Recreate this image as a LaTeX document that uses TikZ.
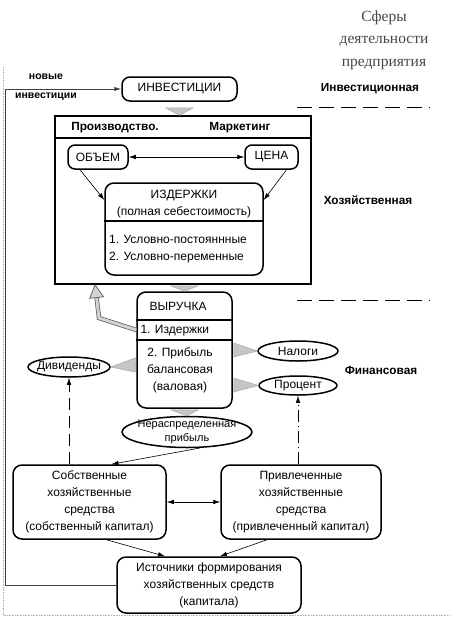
\documentclass[tikz,border=0pt]{standalone}
\usepackage{fontspec}
\setmainfont{Liberation Sans}
\newfontfamily\titlefont{Liberation Serif}
\usetikzlibrary{arrows.meta,calc,shapes.geometric,positioning}

\begin{document}
\begin{tikzpicture}[
        x=1pt, y=-1pt,
        font=\fontsize{12}{17}\selectfont,
        box/.style={draw, line width=1.5pt, rounded corners=9pt, align=center},
        frame/.style={draw, line width=1.5pt},
        oval/.style={ellipse, draw, line width=1.5pt, inner xsep=-10pt, inner ysep=-2pt, align=center},
        sphere/.style={font=\fontsize{11.8}{14}\selectfont\bfseries},
        arrow/.style={line width=0.6pt, -{Latex[length=7pt,width=4.5pt]}},
        biarrow/.style={line width=0.6pt, {Latex[length=7pt,width=4.5pt]}-{Latex[length=7pt,width=4.5pt]}},
        wedge/.style={fill=gray!45, draw=gray!70, line width=0.5pt},
        feedback/.style={draw=gray!70!black, double=gray!35, double distance=3pt, line width=0.7pt, -{Triangle[length=14pt,width=15pt,fill=gray!35]}},
        looparrow/.style={draw=black!75, line width=1pt, -{Latex[length=7pt,width=4.5pt]}},
        bound/.style={dash pattern=on 15pt off 7pt, line width=0.8pt},
        border/.style={gray!60, densely dotted, line width=0.6pt}
    ]
        \useasboundingbox (0,0) rectangle (451,622);

        % sheet edges
        \draw[border] (3,67) -- (3,615) -- (450,615);

        % spheres of activity
        \node[font=\titlefont\fontsize{15.5}{22.5}\selectfont, text=gray!55!black, align=center] (title) at (384,40) {Сферы\\деятельности\\предприятия};
        \node[sphere] (invsphere) at (370,89) {Инвестиционная};
        \node[sphere] (ecosphere) at (368,200) {Хозяйственная};
        \node[sphere] (finsphere) at (381,370) {Финансовая};
        \draw[bound] (297,107) -- (430,107);
        \draw[bound] (297,300) -- (430,300);

        % investment
        \node[box, rounded corners=8pt, minimum width=115pt, minimum height=24pt] (invest) at (179.5,89) {ИНВЕСТИЦИИ};

        % production and marketing
        \node[frame, minimum width=256pt, minimum height=168pt] (prod) at (183,200) {};
        \node[sphere] (prodlbl) at (115,128) {Производство.};
        \node[sphere] (mktlbl) at (240,128) {Маркетинг};
        \draw[line width=1.5pt] (prod.west |- 0,138) -- (prod.east |- 0,138);
        \node[box, rounded corners=7pt, minimum width=60pt, minimum height=24pt] (volume) at (98,157) {ОБЪЕМ};
        \node[box, rounded corners=7pt, minimum width=53pt, minimum height=24pt] (price) at (271.5,157) {ЦЕНА};
        \node[box, minimum width=158pt, minimum height=92pt] (costs) at (184,229) {};
        \node[align=center] (coststtl) at (184,204) {ИЗДЕРЖКИ\\(полная себестоимость)};
        \draw[line width=1.5pt] (costs.west |- 0,221) -- (costs.east |- 0,221);
        \node[align=left] (costslist) at (178,249) {1. Условно-постояннные\\2. Условно-переменные};

        \draw[biarrow] (volume) -- (price);
        \draw[arrow] ($(volume.south)+(-18,0)$) -- ($(costs.west)+(0,-29)$);
        \draw[arrow] ($(price.south)+(15,0)$) -- ($(costs.east)+(0,-29)$);

        % revenue
        \node[box, minimum width=95pt, minimum height=116pt] (revenue) at (184.5,350) {};
        \node (revttl) at (178,306) {ВЫРУЧКА};
        \draw[line width=1.5pt] (revenue.west |- 0,320) -- (revenue.east |- 0,320);
        \draw[line width=1.5pt] (revenue.west |- 0,340) -- (revenue.east |- 0,340);
        \node[anchor=west] (revcosts) at (137,331) {1. Издержки};
        \node[align=center] (revprofit) at (180,370) {2. Прибыль\\балансовая\\(валовая)};

        % distribution of profit
        \node[oval, minimum width=80pt, minimum height=20pt] (taxes) at (298,351) {Налоги};
        \node[oval, minimum width=78pt, minimum height=19pt] (interest) at (298,385.5) {Процент};
        \node[oval, minimum width=82pt, minimum height=20pt] (dividends) at (69,367) {Дивиденды};
        \node[oval, font=\fontsize{11}{14}\selectfont, inner xsep=-13pt, inner ysep=-4pt, minimum width=130pt, minimum height=31pt] (retained) at (187,432) {Нераспределенная\\прибыль};

        % capital
        \node[box, minimum width=153pt, minimum height=74pt] (own) at (89.5,502) {Собственные\\хозяйственные\\средства\\(собственный капитал)};
        \node[box, minimum width=160pt, minimum height=74pt] (borrowed) at (301,502) {Привлеченные\\хозяйственные\\средства\\(привлеченный капитал)};
        \node[box, minimum width=184pt, minimum height=56pt] (sources) at (209,585) {Источники формирования\\хозяйственных средств\\(капитала)};

        % grey wedges
        \filldraw[wedge] ($(invest.south)+(-14,6)$) -- ($(invest.south)+(14,6)$) -- (invest.south |- prod.north) -- cycle;
        \filldraw[wedge] ($(revenue.north |- prod.south)+(-14,1)$) -- ($(revenue.north |- prod.south)+(14,1)$) -- (revenue.north) -- cycle;
        \filldraw[wedge] ($(revenue.east)+(1,-7)$) -- ($(revenue.east)+(1,7)$) -- (taxes.west) -- cycle;
        \filldraw[wedge] ($(revenue.east)+(1,28)$) -- ($(revenue.east)+(1,42)$) -- (interest.west) -- cycle;
        \filldraw[wedge] ($(revenue.west)+(-1,8)$) -- ($(revenue.west)+(-1,22)$) -- (dividends.east) -- cycle;
        \filldraw[wedge] ($(revenue.south)+(-14,1)$) -- ($(revenue.south)+(14,1)$) -- (retained.north) -- cycle;

        % costs go back
        \coordinate (feedbend) at (99,318);
        \coordinate (feedtip) at (95,284);
        \draw[feedback] ($(revenue.west)+(0,-20)$) -- (feedbend) -- (feedtip);

        % flows
        \draw[arrow] (retained.-50) -- ($(own.north)+(22,0)$);
        \draw[arrow, dash pattern=on 12pt off 6pt] (dividends.south |- own.north) -- (dividends.south);
        \draw[arrow, dash pattern=on 12pt off 4pt on 1pt off 4pt] (interest.south |- borrowed.north) -- (interest.south);
        \draw[biarrow] (own) -- (borrowed);
        \draw[arrow] ($(own.south)+(17,0)$) -- ($(sources.north)+(-44,0)$);
        \draw[arrow] ($(borrowed.south)+(-34,0)$) -- ($(sources.north)+(11,0)$);

        % new investment
        \coordinate (loopcorner) at (5,585);
        \node[font=\fontsize{10.5}{19}\selectfont\bfseries, align=center] (newinv) at (46,87) {новые\\инвестиции};
        \draw[looparrow] (sources.west) -- (loopcorner) |- (invest.west);
\end{tikzpicture}
\end{document}
